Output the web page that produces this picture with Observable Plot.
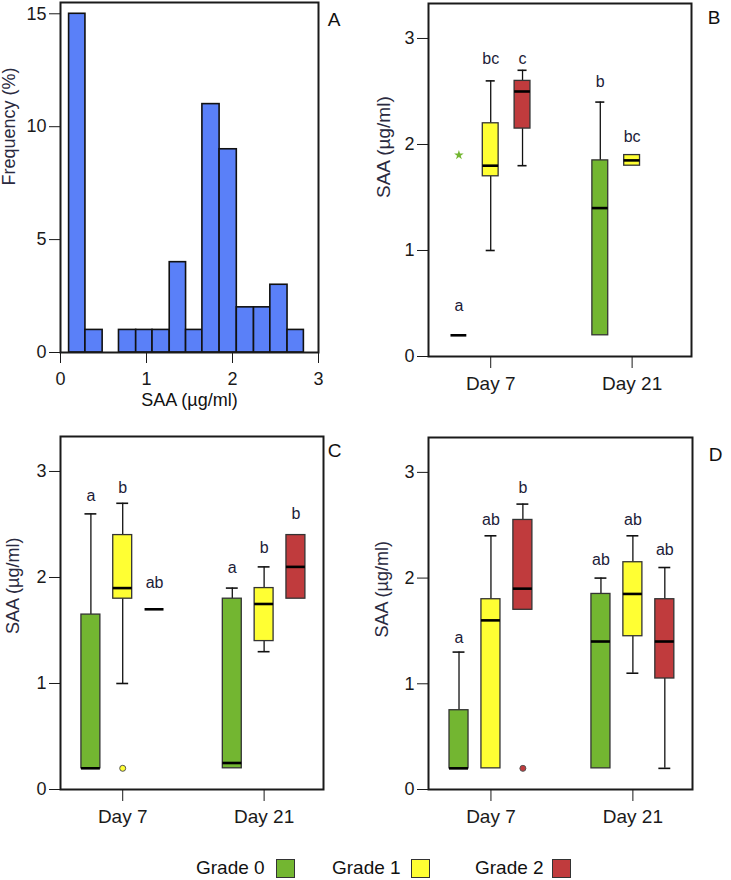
<!DOCTYPE html>
<html><head><meta charset="utf-8">
<script src="https://cdn.jsdelivr.net/npm/d3@7"></script>
<script src="https://cdn.jsdelivr.net/npm/@observablehq/plot@0.6"></script>
<style>
body{margin:0;background:#fff;font-family:"Liberation Sans",Arial,sans-serif;}
#fig{position:relative;width:731px;height:880px;background:#fff;}
#fig .panel{position:absolute;}
#fig svg{overflow:visible;}
.legend span{position:absolute;font-size:19px;line-height:20px;color:#111;top:858px;white-space:nowrap;}
.legend i{position:absolute;width:17px;height:17px;border:1px solid #333;top:859px;}
</style></head><body><div id="fig"></div>
<script>
// ---------- data ----------
const days = ["Day 7", "Day 21"];
const grades = ["Grade 0", "Grade 1", "Grade 2"];
const gradeColors = ["#73b631", "#ffff33", "#c03b3d"];

// Panel A histogram
const histBinStart = [0.10, 0.29, 0.49, 0.68, 0.88, 1.07, 1.27, 1.46, 1.65, 1.85, 2.05, 2.25, 2.44, 2.64];
const histBinEnd   = [0.29, 0.49, 0.68, 0.88, 1.07, 1.27, 1.46, 1.65, 1.85, 2.05, 2.25, 2.44, 2.64, 2.83];
const histFreq     = [15, 1, 0, 1, 1, 1, 4, 1, 11, 9, 2, 2, 3, 1];
const histXTicks = [0, 1, 2, 3];
const histYTicks = [0, 5, 10, 15];
const saaTicks = [0, 1, 2, 3];

// Panel B
const bDay     = ["Day 7", "Day 7", "Day 7", "Day 21", "Day 21"];
const bGrade   = ["Grade 0", "Grade 1", "Grade 2", "Grade 0", "Grade 1"];
const bLow     = [0.2, 1.0, 1.8, 0.2, 1.8];
const bQ1      = [0.2, 1.7, 2.15, 0.2, 1.8];
const bMed     = [0.2, 1.8, 2.5, 1.4, 1.85];
const bQ3      = [0.2, 2.2, 2.6, 1.85, 1.9];
const bHigh    = [0.2, 2.6, 2.7, 2.4, 1.9];
const bLetters = ["a", "bc", "c", "b", "bc"];
const bLetterY = [0.48, 2.81, 2.81, 2.59, 2.07];
const bOutDay = ["Day 7"], bOutGrade = ["Grade 0"], bOutValue = [1.9], bOutSymbol = ["star"];

// Panel C
const cDay     = ["Day 7", "Day 7", "Day 7", "Day 21", "Day 21", "Day 21"];
const cGrade   = ["Grade 0", "Grade 1", "Grade 2", "Grade 0", "Grade 1", "Grade 2"];
const cLow     = [0.2, 1.0, 1.7, 0.2, 1.3, 1.8];
const cQ1      = [0.2, 1.8, 1.7, 0.2, 1.4, 1.8];
const cMed     = [0.2, 1.9, 1.7, 0.25, 1.75, 2.1];
const cQ3      = [1.65, 2.4, 1.7, 1.8, 1.9, 2.4];
const cHigh    = [2.6, 2.7, 1.7, 1.9, 2.1, 2.4];
const cLetters = ["a", "b", "ab", "a", "b", "b"];
const cLetterY = [2.77, 2.85, 1.95, 2.09, 2.28, 2.6];
const cOutDay = ["Day 7"], cOutGrade = ["Grade 1"], cOutValue = [0.2], cOutSymbol = ["circle"];

// Panel D
const dDay     = ["Day 7", "Day 7", "Day 7", "Day 21", "Day 21", "Day 21"];
const dGrade   = ["Grade 0", "Grade 1", "Grade 2", "Grade 0", "Grade 1", "Grade 2"];
const dLow     = [0.2, 0.2, 1.7, 0.2, 1.1, 0.2];
const dQ1      = [0.2, 0.2, 1.7, 0.2, 1.45, 1.05];
const dMed     = [0.2, 1.6, 1.9, 1.4, 1.85, 1.4];
const dQ3      = [0.75, 1.8, 2.55, 1.85, 2.15, 1.8];
const dHigh    = [1.3, 2.4, 2.7, 2.0, 2.4, 2.1];
const dLetters = ["a", "ab", "b", "ab", "ab", "ab"];
const dLetterY = [1.43, 2.55, 2.85, 2.17, 2.55, 2.27];
const dOutDay = ["Day 7"], dOutGrade = ["Grade 2"], dOutValue = [0.2], dOutSymbol = ["circle"];

// ---------- drawing ----------
const FONT = "Liberation Sans, Arial, Helvetica, sans-serif";
const INK = "#1a1a1a";
const fig = document.getElementById("fig");

function place(node, left, top) {
  const wrap = document.createElement("div");
  wrap.className = "panel";
  wrap.style.left = left + "px";
  wrap.style.top = top + "px";
  wrap.appendChild(node);
  fig.appendChild(wrap);
}

const gradeColor = d3.scaleOrdinal(grades, gradeColors);
const posOf = (day, grade) => days.indexOf(day) + 1 + (grades.indexOf(grade) - 1) * 0.225;
const plain = d => String(d);

// Panel A
const hist = histFreq.map((f, i) => ({lo: histBinStart[i], hi: histBinEnd[i], f}));
place(Plot.plot({
  width: 365, height: 400,
  marginLeft: 60, marginRight: 47, marginTop: 2, marginBottom: 48,
  style: {fontFamily: FONT, fontSize: "18px", color: INK, background: "transparent", overflow: "visible"},
  x: {domain: [0, 3]},
  y: {domain: [0, 15.5]},
  marks: [
    Plot.rect(hist.filter(d => d.f > 0), {x1: "lo", x2: "hi", y1: 0, y2: "f", fill: "#5a80f8", stroke: "#111", strokeWidth: 1.6}),
    Plot.frame({stroke: INK, strokeWidth: 2}),
    Plot.axisX({ticks: histXTicks, tickFormat: plain, tickSize: 11, tickPadding: 9, label: null, fontSize: 18}),
    Plot.axisY({ticks: histYTicks, tickFormat: plain, tickSize: 11, tickPadding: 3, label: null, fontSize: 18}),
    Plot.text(["Frequency (%)"], {frameAnchor: "left", text: d => d, rotate: -90, dx: -51, dy: 8, fontSize: 18, fill: "#2a2a40"}),
    Plot.text(["SAA (µg/ml)"], {frameAnchor: "bottom", text: d => d, dy: 53, fontSize: 18, fill: "#111"}),
    Plot.text(["A"], {frameAnchor: "top-right", text: d => d, dx: 22, dy: 10, fontSize: 19, fill: "#111"})
  ]
}), 0, 0);

function boxPanel(cfg) {
  const rows = cfg.day.map((day, i) => ({
    day, grade: cfg.grade[i], pos: posOf(day, cfg.grade[i]),
    lo: cfg.low[i], q1: cfg.q1[i], med: cfg.med[i], q3: cfg.q3[i], hi: cfg.high[i],
    letter: cfg.letters[i], ly: cfg.letterY[i]
  }));
  const outs = cfg.outDay.map((day, i) => ({
    pos: posOf(day, cfg.outGrade[i]), v: cfg.outValue[i], grade: cfg.outGrade[i], symbol: cfg.outSymbol[i]
  }));
  const hw = cfg.boxHalf, cw = cfg.capHalf;
  return Plot.plot({
    width: cfg.width, height: cfg.height,
    marginLeft: cfg.ml, marginRight: cfg.mr, marginTop: cfg.mt, marginBottom: cfg.mb,
    style: {fontFamily: FONT, fontSize: "18px", color: INK, background: "transparent", overflow: "visible"},
    x: {domain: [0.56, 2.42]},
    y: {domain: [0, 3.33]},
    marks: [
      Plot.ruleX(rows.filter(d => d.hi > d.q3), {x: "pos", y1: "q3", y2: "hi", stroke: "#111", strokeWidth: 1.3}),
      Plot.ruleX(rows.filter(d => d.lo < d.q1), {x: "pos", y1: "lo", y2: "q1", stroke: "#111", strokeWidth: 1.3}),
      Plot.ruleY(rows.filter(d => d.hi > d.q3), {y: "hi", x1: d => d.pos - cw, x2: d => d.pos + cw, stroke: "#111", strokeWidth: 1.6}),
      Plot.ruleY(rows.filter(d => d.lo < d.q1), {y: "lo", x1: d => d.pos - cw, x2: d => d.pos + cw, stroke: "#111", strokeWidth: 1.6}),
      Plot.rect(rows.filter(d => d.q3 > d.q1), {x1: d => d.pos - hw, x2: d => d.pos + hw, y1: "q1", y2: "q3",
        fill: d => gradeColor(d.grade), stroke: "#333", strokeWidth: 1.3}),
      Plot.ruleY(rows, {y: "med", x1: d => d.pos - hw, x2: d => d.pos + hw, stroke: "#000", strokeWidth: 2.6}),
      Plot.dot(outs, {x: "pos", y: "v", symbol: "symbol", r: d => d.symbol === "star" ? 3.5 : 4,
        fill: d => gradeColor(d.grade), stroke: d => d.symbol === "star" ? "none" : "#555", strokeWidth: 1}),
      Plot.text(rows, {x: "pos", y: "ly", text: "letter", fontSize: 16, fill: "#1c1c38", lineAnchor: "middle"}),
      Plot.frame({stroke: INK, strokeWidth: 2}),
      Plot.axisX({ticks: [1, 2], tickFormat: i => days[i - 1], tickSize: 12, tickPadding: 8, label: null, fontSize: 19}),
      Plot.axisY({ticks: saaTicks, tickFormat: plain, tickSize: 11, tickPadding: 3, label: null, fontSize: 18}),
      Plot.text(["SAA (µg/ml)"], {frameAnchor: "left", text: d => d, rotate: -90, dx: cfg.tdx, dy: cfg.tdy, fontSize: cfg.titleSize, fill: "#2a2a40"}),
      Plot.text([cfg.tag], {frameAnchor: "top-right", text: d => d, dx: cfg.ldx, dy: cfg.ldy, fontSize: 19, fill: "#111"})
    ]
  });
}

place(boxPanel({
  day: bDay, grade: bGrade, low: bLow, q1: bQ1, med: bMed, q3: bQ3, high: bHigh, letters: bLetters, letterY: bLetterY,
  outDay: bOutDay, outGrade: bOutGrade, outValue: bOutValue, outSymbol: bOutSymbol,
  width: 366, height: 400, ml: 63, mr: 40, mt: 3, mb: 44, boxHalf: 0.056, capHalf: 0.032,
  tdx: -45, tdy: 18, titleSize: 19, tag: "B", ldx: 29, ldy: 7
}), 365, 0);

place(boxPanel({
  day: cDay, grade: cGrade, low: cLow, q1: cQ1, med: cMed, q3: cQ3, high: cHigh, letters: cLetters, letterY: cLetterY,
  outDay: cOutDay, outGrade: cOutGrade, outValue: cOutValue, outSymbol: cOutSymbol,
  width: 365, height: 430, ml: 60, mr: 42, mt: 36, mb: 41, boxHalf: 0.067, capHalf: 0.042,
  tdx: -47, tdy: 21, titleSize: 18, tag: "C", ldx: 18, ldy: 7
}), 0, 400);

place(boxPanel({
  day: dDay, grade: dGrade, low: dLow, q1: dQ1, med: dMed, q3: dQ3, high: dHigh, letters: dLetters, letterY: dLetterY,
  outDay: dOutDay, outGrade: dOutGrade, outValue: dOutValue, outSymbol: dOutSymbol,
  width: 366, height: 430, ml: 63, mr: 39, mt: 37, mb: 41, boxHalf: 0.067, capHalf: 0.042,
  tdx: -46, tdy: 24, titleSize: 18, tag: "D", ldx: 30, ldy: 10
}), 365, 400);

// Legend
const legend = document.createElement("div");
legend.className = "legend";
const legendTextX = [196, 332, 475];
const legendSwatchX = [276, 411, 552];
grades.forEach((g, i) => {
  const s = document.createElement("span");
  s.textContent = g;
  s.style.left = legendTextX[i] + "px";
  legend.appendChild(s);
  const sw = document.createElement("i");
  sw.style.left = legendSwatchX[i] + "px";
  sw.style.background = gradeColors[i];
  legend.appendChild(sw);
});
fig.appendChild(legend);
</script></body></html>
